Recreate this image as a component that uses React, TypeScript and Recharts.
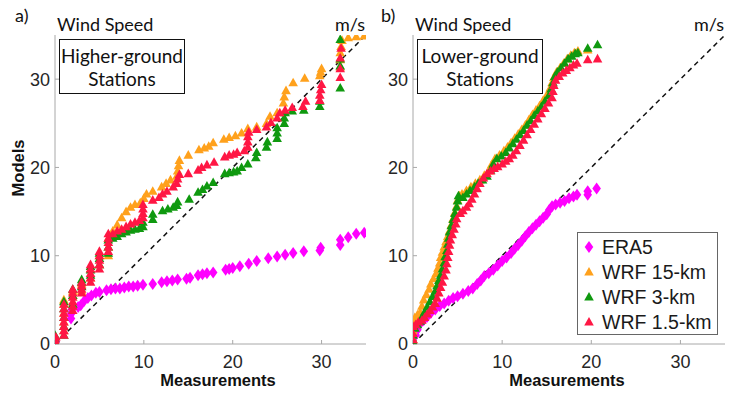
import React from 'react';
import { ScatterChart, Scatter, XAxis, YAxis, ReferenceLine } from 'recharts';

type Pair = [number, number];

const AXIS_MAX = 35;
const labelTicks = [0, 10, 20, 30];
const rightTicks = [0, 5, 10, 15, 20, 25, 30, 35];

const seriesNames = ['ERA5', 'WRF 15-km', 'WRF 3-km', 'WRF 1.5-km'];
const seriesColors = ['#ff00ff', '#ffa11c', '#0f990f', '#ff1744'];
const seriesShapes = ['diamond', 'triangle', 'triangle', 'triangle'];

// a) higher-ground stations: [measurement, model] quantile pairs
const hgEra5: Pair[] = [
  [0, 0], [0.1, 0.3], [1.8, 2.9], [1.8, 3.4], [1.9, 3.9], [2.6, 4.2], [2.9, 4.4], [3.3, 4.9],
  [3.7, 5.2], [4.1, 5.5], [4.6, 5.8], [5.0, 5.9], [5.8, 6.1], [6.3, 6.2], [6.8, 6.3], [7.3, 6.3],
  [7.8, 6.4], [8.3, 6.5], [8.8, 6.5], [9.3, 6.6], [9.9, 6.7], [11.0, 6.8], [12.0, 7.0], [12.6, 7.1],
  [13.2, 7.2], [13.8, 7.3], [14.8, 7.4], [15.2, 7.5], [16.1, 7.8], [16.6, 7.9], [17.1, 8.0], [17.8, 8.1],
  [19.2, 8.4], [19.6, 8.5], [20.0, 8.6], [20.8, 8.8], [21.8, 9.1], [22.7, 9.4], [24.0, 9.7], [25.0, 9.9],
  [25.9, 10.1], [26.8, 10.3], [28.0, 10.5], [29.8, 10.6], [29.9, 10.9], [32.1, 11.2], [32.1, 11.8],
  [33.0, 12.1], [33.9, 12.5], [34.8, 12.6],
];
const hgWrf15: Pair[] = [
  [0, 0.3], [0, 0.8], [1, 1.5], [1, 2.5], [1, 3.5], [1, 4.5], [1, 5.0], [2, 4.5], [2, 5.5], [2, 6.0],
  [3, 6.0], [3, 6.8], [4, 7.5], [4, 8.5], [5, 9.0], [5, 10.0], [6, 10.0], [6, 11.0], [6, 12.0],
  [6.5, 12.8], [7, 13.5], [7.5, 14.3], [8, 15.0], [8.5, 15.5], [9, 15.8], [9.6, 16.0], [10.0, 16.5],
  [10.3, 17.0], [11.0, 17.3], [12.0, 17.8], [12.5, 18.2], [13.0, 18.6], [13.7, 19.0], [13.8, 19.6],
  [13.9, 20.2], [14.0, 20.8], [15.0, 21.4], [16.2, 22.0], [16.8, 22.2], [17.3, 22.4], [17.8, 22.8],
  [19.0, 23.2], [19.6, 23.4], [20.3, 23.6], [21.0, 23.9], [21.7, 24.4], [22.7, 24.6], [23.8, 25.0],
  [24.2, 25.8], [25.0, 26.2], [25.7, 27.3], [25.8, 28.0], [26.0, 28.7], [26.8, 29.6], [28.1, 30.1],
  [29.8, 30.4], [29.9, 30.8], [30.0, 31.2], [32.1, 31.4], [32.1, 32.2], [32.1, 33.0], [32.2, 33.7],
  [32.3, 34.4], [33.0, 34.7], [33.9, 34.8], [34.8, 34.9],
];
const hgWrf3: Pair[] = [
  [0, 0.2], [0, 0.6], [0, 1.0], [1, 1.0], [1, 2.0], [1, 3.0], [1, 4.0], [1, 4.8], [2, 4.5], [2, 5.5],
  [2, 6.2], [3, 6.5], [3, 7.0], [3, 7.3], [4, 7.8], [4, 8.4], [4, 8.8], [5, 9.0], [5, 9.7], [5, 10.3],
  [6, 10.3], [6, 11.0], [6, 11.8], [6.5, 12.0], [7, 12.2], [7.5, 12.5], [8, 12.7], [8.5, 12.9],
  [9, 13.0], [9.5, 13.1], [9.9, 13.3], [9.9, 13.8], [11.0, 14.1], [11.0, 14.7], [12.1, 15.1],
  [12.7, 15.3], [13.3, 15.5], [13.7, 15.7], [13.8, 16.1], [15.1, 16.4], [16.1, 17.2], [16.6, 17.5],
  [17.1, 17.9], [17.8, 18.3], [19.1, 19.3], [19.6, 19.4], [20.1, 19.5], [20.5, 19.6], [21.0, 20.0],
  [21.7, 20.4], [22.6, 21.1], [22.7, 21.7], [23.8, 22.3], [23.9, 22.9], [25.0, 23.3], [25.0, 23.9],
  [25.0, 24.5], [25.8, 25.0], [25.8, 25.6], [25.9, 26.2], [26.7, 26.4], [28.0, 26.5], [29.8, 26.9],
  [29.8, 27.5], [32.1, 29.0], [32.1, 31.5], [32.1, 32.3], [32.1, 34.5],
];
const hgWrf1_5: Pair[] = [
  [0, 0.2], [0, 0.5], [0.1, 0.8], [1, 1.0], [1, 1.5], [1, 2.0], [1, 2.5], [1, 3.0], [1, 3.5],
  [1, 4.0], [1, 4.5], [2, 3.8], [2, 4.3], [2, 4.8], [2, 5.3], [2, 5.8], [2, 6.2], [3, 5.8], [3, 6.2],
  [3, 6.6], [3, 7.0], [4, 7.0], [4, 7.5], [4, 8.0], [4, 8.5], [4, 9.0], [5, 8.5], [5, 9.0], [5, 9.5],
  [5, 10.0], [5, 10.5], [6, 10.5], [6, 11.0], [6, 11.5], [6, 12.0], [6, 12.5], [6.5, 12.5], [7, 12.8],
  [7.5, 13.0], [8, 13.3], [8.5, 13.6], [9, 13.8], [9.5, 14.0], [9.9, 14.3], [9.9, 14.8], [9.9, 15.3],
  [9.9, 15.8], [11.0, 16.3], [11.7, 16.6], [12.1, 17.0], [12.6, 17.3], [13.3, 17.8], [13.7, 18.2],
  [13.8, 18.7], [14.0, 19.2], [15.0, 19.3], [16.1, 19.7], [16.5, 20.0], [17.1, 20.3], [17.9, 20.6],
  [19.1, 21.2], [19.6, 21.4], [20.1, 21.5], [20.5, 21.7], [21.3, 21.9], [21.7, 22.3], [21.7, 22.9],
  [21.7, 23.5], [21.8, 24.0], [22.7, 24.3], [23.8, 24.6], [24.3, 25.1], [25.0, 25.6], [25.3, 26.2],
  [25.9, 26.5], [26.7, 26.8], [27.9, 26.9], [28.2, 27.5], [29.8, 27.6], [29.8, 28.2], [29.9, 28.8],
  [30.0, 29.4], [32.1, 30.2], [32.1, 31.2], [32.1, 32.4], [32.2, 33.5],
];

// b) lower-ground stations
const lgEra5: Pair[] = [
  [0, 0.2], [0.3, 1.0], [0.5, 1.6], [0.8, 2.3], [1.2, 2.7], [1.6, 3.1], [2.0, 3.5], [2.5, 3.9],
  [3.0, 4.3], [3.5, 4.6], [4.0, 4.9], [4.5, 5.2], [5.0, 5.4], [5.6, 5.7], [6.2, 6.0], [6.7, 6.3],
  [7.2, 6.8], [7.6, 7.2], [8.0, 7.7], [8.5, 8.0], [9.0, 8.4], [9.5, 8.9], [10.0, 9.4], [10.5, 9.8],
  [11.0, 10.3], [11.4, 10.8], [11.8, 11.2], [12.2, 11.7], [12.6, 12.2], [13.0, 12.7], [13.4, 13.1],
  [13.8, 13.5], [14.2, 13.9], [14.6, 14.3], [15.0, 14.7], [15.3, 15.2], [15.6, 15.6], [16.0, 15.8],
  [16.5, 16.0], [17.0, 16.2], [17.5, 16.5], [18.0, 16.7], [18.4, 16.9], [19.6, 16.9], [19.6, 17.3],
  [20.6, 17.6],
];
const lgWrf15: Pair[] = [
  [0, 0.5], [0, 1.5], [0, 2.5], [0.2, 3.0], [0.5, 3.3], [0.8, 3.6], [1.0, 4.3], [1.2, 5.0], [1.5, 5.6],
  [1.8, 6.2], [2.0, 6.8], [2.3, 7.4], [2.6, 8.0], [2.8, 8.6], [3.0, 9.2], [3.1, 9.8], [3.3, 10.4],
  [3.5, 11.0], [3.7, 11.6], [3.9, 12.2], [4.1, 12.8], [4.3, 13.5], [4.5, 14.2], [4.7, 14.9], [4.9, 15.6],
  [5.0, 16.3], [5.2, 16.8], [5.5, 17.0], [6.0, 17.4], [6.5, 17.8], [7.0, 18.2], [7.5, 18.6], [8.0, 19.1],
  [8.5, 19.6], [8.8, 20.3], [9.2, 21.0], [9.7, 21.4], [10.2, 21.9], [10.6, 22.3], [11.0, 22.8],
  [11.4, 23.3], [11.8, 23.8], [12.2, 24.3], [12.6, 24.8], [13.0, 25.4], [13.4, 26.0], [13.8, 26.5],
  [14.2, 27.0], [14.6, 27.6], [15.0, 28.2], [15.4, 29.0], [15.6, 29.6], [15.8, 30.2], [16.1, 30.8],
  [16.5, 31.3], [16.9, 31.8], [17.3, 32.3], [17.7, 32.7], [18.1, 33.0], [18.5, 33.2], [19.6, 33.3],
];
const lgWrf3: Pair[] = [
  [0, 0.3], [0, 1.0], [0.2, 1.8], [0.5, 2.2], [0.8, 2.6], [1.0, 3.0], [1.3, 3.6], [1.6, 4.2], [1.9, 4.8],
  [2.2, 5.4], [2.5, 6.0], [2.7, 6.6], [2.9, 7.2], [3.1, 7.8], [3.3, 8.5], [3.5, 9.2], [3.6, 9.9],
  [3.8, 10.6], [3.9, 11.3], [4.0, 12.0], [4.1, 12.7], [4.3, 13.4], [4.5, 14.1], [4.7, 14.8], [4.9, 15.5],
  [5.0, 16.2], [5.1, 16.8], [5.6, 16.6], [6.0, 17.0], [6.4, 17.4], [6.9, 17.8], [7.3, 18.2], [7.8, 18.6],
  [8.3, 19.0], [8.7, 19.7], [9.0, 20.4], [9.4, 21.0], [9.9, 21.3], [10.4, 21.7], [10.8, 22.2],
  [11.2, 22.7], [11.6, 23.2], [12.0, 23.7], [12.4, 24.2], [12.8, 24.8], [13.2, 25.3], [13.6, 25.9],
  [14.0, 26.4], [14.4, 26.9], [14.8, 27.5], [15.2, 28.1], [15.5, 28.9], [15.7, 29.6], [15.9, 30.3],
  [16.2, 30.8], [16.6, 31.3], [17.0, 31.8], [17.4, 32.3], [17.8, 32.6], [18.2, 32.9], [18.5, 33.0],
  [19.6, 33.5], [20.7, 33.9],
];
const lgWrf1_5: Pair[] = [
  [0, 0.5], [0, 1.2], [0, 2.0], [0.3, 2.2], [0.6, 2.5], [1.0, 2.7], [1.3, 3.0], [1.6, 3.4], [1.9, 3.8],
  [2.2, 4.2], [2.5, 4.6], [2.7, 5.2], [2.9, 5.8], [3.1, 6.4], [3.3, 7.0], [3.5, 7.7], [3.7, 8.4],
  [3.8, 9.1], [3.9, 9.8], [4.0, 10.5], [4.1, 11.2], [4.2, 11.8], [4.4, 12.4], [4.6, 13.0], [4.8, 13.6],
  [4.9, 14.2], [5.3, 14.8], [5.6, 15.1], [6.0, 15.5], [6.3, 15.9], [6.6, 16.4], [6.9, 17.0], [7.2, 17.6],
  [7.5, 18.2], [7.9, 18.8], [8.3, 19.3], [8.7, 19.6], [9.1, 19.9], [9.5, 20.1], [10.0, 20.4],
  [10.4, 20.7], [10.8, 21.0], [11.2, 21.4], [11.6, 21.9], [12.0, 22.5], [12.4, 23.1], [12.8, 23.7],
  [13.2, 24.3], [13.6, 24.9], [14.0, 25.5], [14.4, 26.1], [14.8, 26.7], [15.2, 27.3], [15.6, 27.9],
  [15.7, 28.6], [15.8, 29.3], [16.0, 29.9], [16.4, 30.3], [16.8, 30.7], [17.2, 31.0], [17.6, 31.3],
  [18.0, 31.6], [18.4, 31.8], [19.6, 32.2], [20.7, 32.3],
];

const higherGround = [hgEra5, hgWrf15, hgWrf3, hgWrf1_5];
const lowerGround = [lgEra5, lgWrf15, lgWrf3, lgWrf1_5];

const TICK_FONT = '"Liberation Sans", Arial, sans-serif';
const TITLE_FONT = 'Lato, "Open Sans", sans-serif';
const AXIS_GRAY = '#a8a8a8';

const toPoints = (pairs: Pair[]) => pairs.map(([x, y]) => ({ x, y }));

const Marker = ({ cx, cy, fill, kind }: any) => {
  if (cx == null || cy == null) return null;
  if (kind === 'diamond') {
    return <polygon points={`${cx},${cy - 6} ${cx + 4.3},${cy} ${cx},${cy + 6} ${cx - 4.3},${cy}`} fill={fill} />;
  }
  return <polygon points={`${cx},${cy - 5} ${cx + 4.8},${cy + 3.6} ${cx - 4.8},${cy + 3.6}`} fill={fill} />;
};

const tickStyle = { fill: '#262626', fontSize: 18, fontFamily: TICK_FONT };

function Panel({ series, width, marginLeft, marginRight }: { series: Pair[][]; width: number; marginLeft: number; marginRight: number }) {
  return (
    <ScatterChart width={width} height={395} margin={{ top: 35, right: marginRight, bottom: 21, left: marginLeft }}>
      <XAxis
        type="number" dataKey="x" domain={[0, AXIS_MAX]} ticks={labelTicks} allowDataOverflow
        tick={tickStyle} tickSize={-4} tickMargin={15} height={30}
        stroke={AXIS_GRAY} axisLine={{ stroke: AXIS_GRAY }} tickLine={{ stroke: AXIS_GRAY }}
      />
      <XAxis
        xAxisId="top" orientation="top" type="number" domain={[0, AXIS_MAX]} ticks={labelTicks} allowDataOverflow
        tick={false} tickSize={-4} height={0} stroke={AXIS_GRAY}
      />
      <YAxis
        type="number" dataKey="y" domain={[0, AXIS_MAX]} ticks={labelTicks} allowDataOverflow
        tick={tickStyle} tickSize={-4} tickMargin={9} width={30}
        stroke={AXIS_GRAY} axisLine={{ stroke: AXIS_GRAY }} tickLine={{ stroke: AXIS_GRAY }}
      />
      <YAxis
        yAxisId="right" orientation="right" type="number" domain={[0, AXIS_MAX]} ticks={rightTicks} allowDataOverflow
        tick={false} tickSize={-4} width={0} stroke={AXIS_GRAY}
      />
      <ReferenceLine
        segment={[{ x: 0, y: 0 }, { x: AXIS_MAX, y: AXIS_MAX }]}
        stroke="#111" strokeWidth={1.5} strokeDasharray="5 4"
      />
      {series.map((pairs, i) => (
        <Scatter
          key={seriesNames[i]}
          name={seriesNames[i]}
          data={toPoints(pairs)}
          fill={seriesColors[i]}
          isAnimationActive={false}
          shape={(p: any) => <Marker cx={p.cx} cy={p.cy} fill={seriesColors[i]} kind={seriesShapes[i]} />}
        />
      ))}
    </ScatterChart>
  );
}

const abs = (left: number, top: number, extra: React.CSSProperties = {}): React.CSSProperties => ({
  position: 'absolute', left, top, ...extra,
});

const titleText: React.CSSProperties = { fontFamily: TITLE_FONT, fontSize: 18, color: '#111', lineHeight: '18px', whiteSpace: 'nowrap' };
const axisTitle: React.CSSProperties = { fontFamily: TICK_FONT, fontWeight: 'bold', fontSize: 16.5, color: '#111', lineHeight: '16px', whiteSpace: 'nowrap' };

function StationBox({ left, lines }: { left: number; lines: string[] }) {
  return (
    <div style={abs(left, 39, {
      width: 124, height: 53, border: '1.5px solid #111', background: '#fff',
      fontFamily: TITLE_FONT, fontSize: 19, lineHeight: '23px', textAlign: 'center', color: '#111',
      display: 'flex', flexDirection: 'column', justifyContent: 'center',
    })}>
      {lines.map((l) => <div key={l}>{l}</div>)}
    </div>
  );
}

function LegendBox() {
  return (
    <div style={abs(577, 232, {
      width: 139, height: 101, border: '1.2px solid #666', background: '#fff',
      fontFamily: TICK_FONT, fontSize: 19.5, color: '#1a1a1a',
    })}>
      {seriesNames.map((name, i) => (
        <div key={name} style={abs(0, 2 + i * 25, { height: 24, display: 'flex', alignItems: 'center', whiteSpace: 'nowrap' })}>
          <svg width={22} height={14}>
            <Marker cx={11} cy={7} fill={seriesColors[i]} kind={seriesShapes[i]} />
          </svg>
          <span style={{ marginLeft: 2 }}>{name}</span>
        </div>
      ))}
    </div>
  );
}

export default function App() {
  return (
    <div style={{ position: 'absolute', left: 0, top: 0, width: 731, height: 395, background: '#fff', overflow: 'hidden' }}>
      <div style={abs(0, 0)}>
        <Panel series={higherGround} width={370} marginLeft={25} marginRight={4} />
      </div>
      <div style={abs(370, 0)}>
        <Panel series={lowerGround} width={361} marginLeft={13} marginRight={6} />
      </div>

      <div style={abs(15, 6, titleText)}>a)</div>
      <div style={abs(57, 15, titleText)}>Wind Speed</div>
      <div style={abs(335, 15, titleText)}>m/s</div>
      <div style={abs(381, 6, titleText)}>b)</div>
      <div style={abs(415, 15, titleText)}>Wind Speed</div>
      <div style={abs(694, 15, titleText)}>m/s</div>

      <StationBox left={59} lines={['Higher-ground', 'Stations']} />
      <StationBox left={417} lines={['Lower-ground', 'Stations']} />
      <LegendBox />

      <div style={abs(218, 372, { ...axisTitle, transform: 'translateX(-50%)' })}>Measurements</div>
      <div style={abs(567, 372, { ...axisTitle, transform: 'translateX(-50%)' })}>Measurements</div>
      <div style={abs(18, 168, { ...axisTitle, transform: 'translate(-50%, -50%) rotate(-90deg)' })}>Models</div>
    </div>
  );
}
